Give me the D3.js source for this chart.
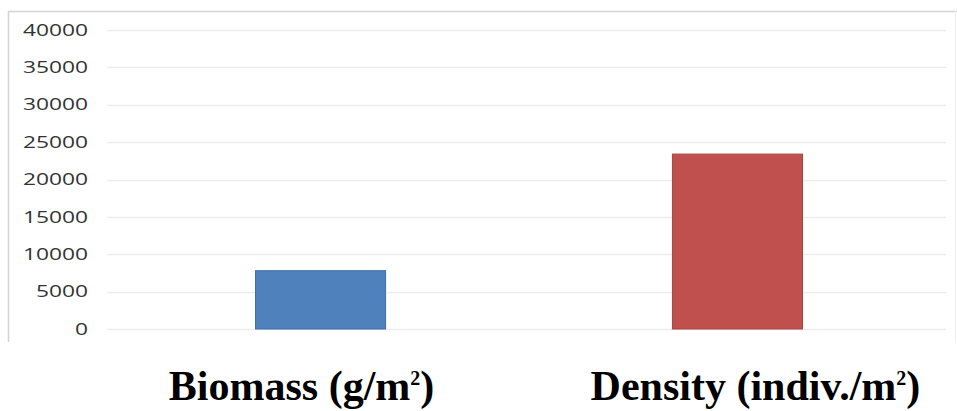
<!DOCTYPE html>
<html>
<head>
<meta charset="utf-8">
<script src="https://cdn.jsdelivr.net/npm/d3@7"></script>
<style>
  html, body { margin: 0; padding: 0; background: #ffffff; }
  svg { display: block; }
</style>
</head>
<body>
<svg id="chart" width="957" height="411"></svg>
<script>
// Chart data
const categories = ["Biomass (g/m²)", "Density (indiv./m²)"];
const values = [7800, 23400];
const barColors = ["#4F81BD", "#C0504D"];
const barStrokes = ["#3F6DA6", "#A9433F"];
const yTicks = [0, 5000, 10000, 15000, 20000, 25000, 30000, 35000, 40000];

const svg = d3.select("#chart");

// Plot area geometry
const plotLeft = 107, plotRight = 946;
const yTop = 30, yBottom = 329;

const x = d3.scaleBand()
  .domain(categories)
  .range([110, 948])
  .paddingInner(0.688)
  .paddingOuter(0.349);

const y = d3.scaleLinear()
  .domain([0, 40000])
  .range([yBottom, yTop]);

// Chart frame (top, left, right edges)
const frame = svg.append("g").attr("fill", "none");
frame.append("line").attr("x1", 8).attr("x2", 957).attr("y1", 11.5).attr("y2", 11.5)
  .attr("stroke", "#d4d4d4").attr("stroke-width", 1.5);
frame.append("line").attr("x1", 8.5).attr("x2", 8.5).attr("y1", 11).attr("y2", 342)
  .attr("stroke", "#d4d4d4").attr("stroke-width", 1.5);
frame.append("line").attr("x1", 955.5).attr("x2", 955.5).attr("y1", 11).attr("y2", 342)
  .attr("stroke", "#eeeeee").attr("stroke-width", 1);

// Horizontal gridlines
svg.append("g")
  .selectAll("line")
  .data(yTicks)
  .join("line")
  .attr("x1", plotLeft)
  .attr("x2", plotRight)
  .attr("y1", d => Math.round(y(d)) + 0.5)
  .attr("y2", d => Math.round(y(d)) + 0.5)
  .attr("stroke", "#ededed")
  .attr("stroke-width", 1.5);

// Value axis labels
const yAxis = d3.axisLeft(y)
  .tickValues(yTicks)
  .tickSize(0)
  .tickPadding(0)
  .tickFormat(d3.format("d"));

const axisG = svg.append("g")
  .attr("transform", "translate(88,0)")
  .call(yAxis);
axisG.select(".domain").remove();
axisG.selectAll(".tick text")
  .attr("x", 0)
  .attr("fill", "#333333")
  .style("font-family", "'Open Sans', 'DejaVu Sans', sans-serif")
  .style("font-size", "16px")
  .attr("textLength", function () { return this.textContent.length * 13; })
  .attr("lengthAdjust", "spacingAndGlyphs");

// Bars
svg.append("g")
  .selectAll("rect")
  .data(categories)
  .join("rect")
  .attr("x", d => x(d))
  .attr("y", (d, i) => y(values[i]))
  .attr("width", x.bandwidth())
  .attr("height", (d, i) => y(0) - y(values[i]))
  .attr("fill", (d, i) => barColors[i])
  .attr("stroke", (d, i) => barStrokes[i])
  .attr("stroke-width", 1);

// Category labels below the plot; the "²" is set as a raised small digit
const labelShift = [-19, 18];
const labels = svg.append("g")
  .selectAll("text")
  .data(categories)
  .join("text")
  .attr("x", (d, i) => x(d) + x.bandwidth() / 2 + labelShift[i])
  .attr("y", 400)
  .attr("text-anchor", "middle")
  .attr("fill", "#000000")
  .style("font-family", "'Liberation Serif', 'Times New Roman', serif")
  .style("font-weight", "bold")
  .style("font-size", "42px");

labels.each(function (d) {
  const t = d3.select(this);
  const parts = d.split("²");
  t.append("tspan").text(parts[0]);
  if (parts.length > 1) {
    t.append("tspan").attr("dy", -15).style("font-size", "20px").text("2");
    t.append("tspan").attr("dy", 15).text(parts[1]);
  }
});
</script>
</body>
</html>
